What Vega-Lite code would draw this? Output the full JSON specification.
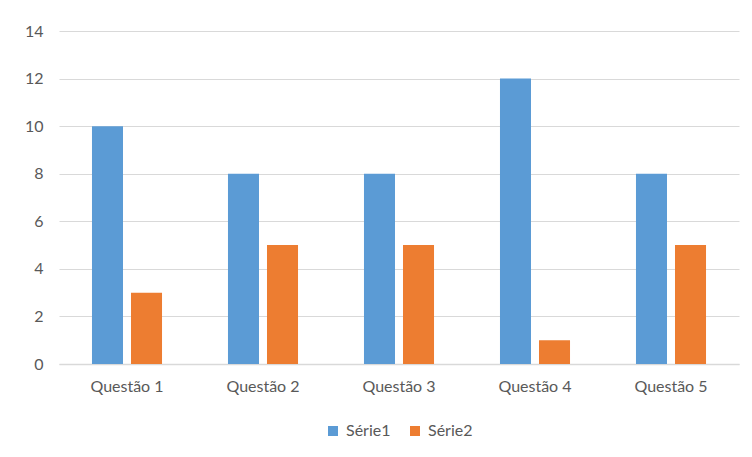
{
  "$schema": "https://vega.github.io/schema/vega-lite/v6.json",
  "autosize": {"type": "none"},
  "width": 680,
  "height": 333,
  "padding": {"left": 59, "top": 31, "right": 13, "bottom": 93},
  "background": "white",
  "data": {
    "values": [
      {"questao": "Questão 1", "serie": "Série1", "valor": 10},
      {"questao": "Questão 1", "serie": "Série2", "valor": 3},
      {"questao": "Questão 2", "serie": "Série1", "valor": 8},
      {"questao": "Questão 2", "serie": "Série2", "valor": 5},
      {"questao": "Questão 3", "serie": "Série1", "valor": 8},
      {"questao": "Questão 3", "serie": "Série2", "valor": 5},
      {"questao": "Questão 4", "serie": "Série1", "valor": 12},
      {"questao": "Questão 4", "serie": "Série2", "valor": 1},
      {"questao": "Questão 5", "serie": "Série1", "valor": 8},
      {"questao": "Questão 5", "serie": "Série2", "valor": 5}
    ]
  },
  "mark": {"type": "bar"},
  "encoding": {
    "x": {
      "field": "questao",
      "type": "nominal",
      "title": null,
      "scale": {"paddingInner": 0.485, "paddingOuter": 0.2425},
      "axis": {
        "labelAngle": 0,
        "ticks": false,
        "domainColor": "#D9D9D9",
        "domainWidth": 1.5,
        "labelPadding": 14,
        "grid": false
      }
    },
    "xOffset": {
      "field": "serie",
      "type": "nominal",
      "scale": {"paddingInner": 0.205, "paddingOuter": 0}
    },
    "y": {
      "field": "valor",
      "type": "quantitative",
      "title": null,
      "scale": {"domain": [0, 14], "nice": false},
      "axis": {
        "values": [0, 2, 4, 6, 8, 10, 12, 14],
        "ticks": false,
        "domain": false,
        "labelPadding": 16,
        "gridColor": "#D9D9D9",
        "gridWidth": 1.2
      }
    },
    "color": {
      "field": "serie",
      "type": "nominal",
      "title": null,
      "scale": {"domain": ["Série1", "Série2"], "range": ["#5B9BD5", "#ED7D31"]},
      "legend": {
        "orient": "bottom",
        "direction": "horizontal",
        "symbolType": "square",
        "symbolSize": 100,
        "symbolStrokeWidth": 0,
        "symbolOpacity": 1,
        "columnPadding": 16,
        "labelOffset": 5,
        "offset": 29
      }
    }
  },
  "config": {
    "view": {"stroke": null},
    "font": "Lato",
    "axis": {"labelFont": "Lato", "labelFontSize": 16, "labelColor": "#595959"},
    "legend": {"labelFont": "Lato", "labelFontSize": 16, "labelColor": "#595959", "layout": {"bottom": {"anchor": "middle"}}}
  }
}
